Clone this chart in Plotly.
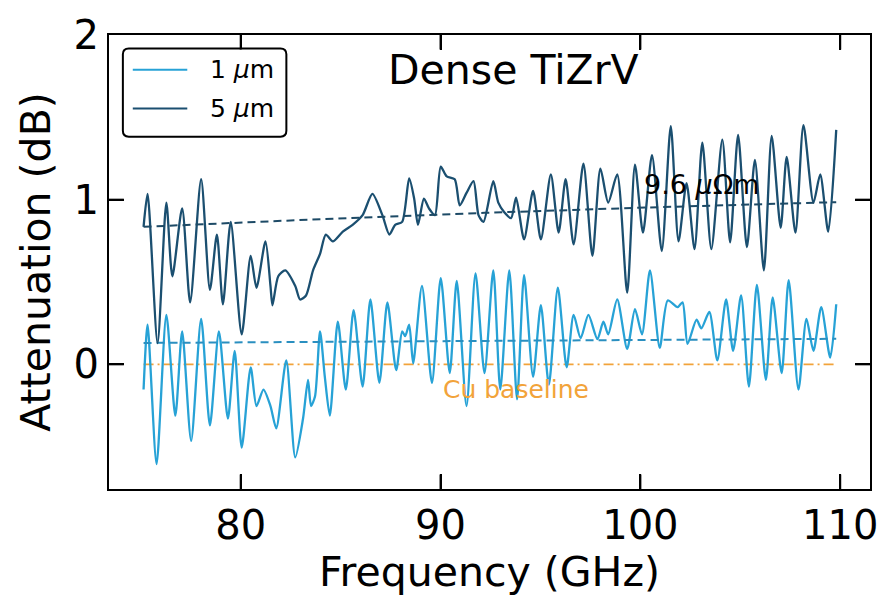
import plotly.graph_objects as go

# ---- data ----
freq_5um = [75.14, 75.34, 75.84, 76.28, 76.58, 77.07, 77.47, 78.02, 78.46, 78.81,
            79.11, 79.50, 80.05, 80.50, 80.79, 81.24, 81.49, 81.59, 81.88, 82.23,
            82.73, 82.97, 83.27, 83.62, 83.97, 84.26, 84.61, 85.11, 85.60, 86.10,
            86.59, 87.09, 87.44, 87.73, 88.08, 88.43, 88.68, 88.87, 89.17, 89.42,
            89.72, 90.01, 90.31, 90.71, 90.96, 91.30, 91.65, 91.90, 92.15, 92.64,
            92.89, 93.19, 93.53, 93.78, 94.18, 94.63, 95.02, 95.52, 95.91, 96.26,
            96.66, 97.15, 97.60, 98.00, 98.39, 98.84, 99.34, 99.73, 100.13, 100.58,
            101.07, 101.52, 101.91, 102.31, 102.71, 103.10, 103.55, 104.10, 104.49, 104.89,
            105.33, 105.73, 106.18, 106.57, 107.02, 107.32, 107.76, 108.16, 108.66, 109.00,
            109.40, 109.80]
att_5um = [0.835, 1.035, 0.129, 0.982, 0.535, 0.947, 0.376, 1.124, 0.453, 0.788,
           0.365, 0.865, 0.182, 0.659, 0.465, 0.747, 0.476, 0.359, 0.535, 0.571,
           0.476, 0.394, 0.418, 0.571, 0.671, 0.788, 0.747, 0.806, 0.847, 0.906,
           1.035, 0.906, 0.788, 0.847, 0.865, 1.129, 1.006, 0.847, 1.006, 0.947,
           0.906, 1.200, 1.141, 1.124, 0.965, 1.041, 1.112, 0.906, 0.865, 1.112,
           0.982, 0.924, 0.888, 1.012, 0.759, 1.053, 0.759, 1.153, 0.800, 1.124,
           0.729, 1.218, 0.659, 1.188, 0.982, 1.153, 0.435, 1.212, 0.800, 1.271,
           0.688, 1.447, 0.747, 1.100, 0.700, 1.347, 0.700, 1.365, 0.741, 1.394,
           0.712, 1.241, 0.571, 1.388, 0.829, 1.259, 0.800, 1.453, 0.982, 1.153,
           0.806, 1.424]

freq_1um = [75.14, 75.34, 75.79, 76.28, 76.73, 77.07, 77.52, 78.02, 78.46, 78.91,
            79.36, 79.70, 80.05, 80.50, 80.79, 81.14, 81.49, 81.78, 82.28, 82.73,
            83.12, 83.37, 83.52, 83.72, 83.97, 84.21, 84.46, 84.86, 85.26, 85.65,
            86.10, 86.49, 86.94, 87.34, 87.78, 88.08, 88.23, 88.43, 88.63, 89.07,
            89.57, 90.01, 90.46, 90.81, 91.30, 91.75, 92.20, 92.64, 92.99, 93.44,
            93.83, 94.18, 94.63, 95.02, 95.42, 95.87, 96.31, 96.66, 97.01, 97.40,
            97.85, 98.15, 98.39, 98.84, 99.34, 99.73, 100.08, 100.48, 100.97, 101.37,
            101.86, 102.11, 102.36, 102.81, 103.05, 103.45, 103.85, 104.29, 104.64, 105.04,
            105.43, 105.83, 106.28, 106.62, 107.07, 107.42, 107.91, 108.31, 108.66, 109.05,
            109.50, 109.80]
att_1um = [-0.153, 0.241, -0.606, 0.300, -0.312, 0.200, -0.465, 0.276, -0.371, 0.200,
           -0.329, 0.082, -0.506, -0.018, -0.253, -0.153, -0.253, -0.388, 0.024, -0.565,
           -0.329, -0.094, -0.253, -0.194, 0.200, -0.076, -0.312, 0.259, -0.153, 0.329,
           -0.135, 0.394, -0.112, 0.376, -0.035, 0.200, 0.171, 0.241, 0.006, 0.476,
           -0.112, 0.524, -0.053, 0.506, -0.253, 0.553, -0.053, 0.571, -0.153, 0.571,
           -0.212, 0.541, -0.076, 0.359, -0.124, 0.465, -0.018, 0.300, 0.159, 0.300,
           0.153, 0.259, 0.182, 0.394, 0.094, 0.335, 0.182, 0.571, 0.100, 0.388,
           0.347, 0.376, 0.124, 0.271, 0.218, 0.318, 0.024, 0.394, 0.082, 0.418,
           -0.135, 0.482, -0.094, 0.406, -0.053, 0.512, -0.153, 0.276, 0.082, 0.347,
           0.041, 0.365]

fit_freq = [75.14, 82.73, 92.20, 101.00, 109.80]
fit_5um = [0.835, 0.875, 0.920, 0.955, 0.985]
fit_1um = [0.130, 0.136, 0.143, 0.149, 0.155]

cu_freq = [75.14, 109.80]
cu_att = [0.0, 0.0]

series_names = ["1 <i>\u03bc</i>m", "5 <i>\u03bc</i>m"]
title_text = "Dense TiZrV"
rho_label = "9.6 <i>\u03bc</i>\u03a9m"
cu_label = "Cu baseline"
xtick_vals = [80, 90, 100, 110]
ytick_vals = [0, 1, 2]
x_range = [73.41, 111.49]
y_range = [-0.757, 2.0]

C_LIGHT = "#27a2d6"
C_DARK = "#1b4f70"
C_CU = "#f2a33a"
FONT = "DejaVu Sans"

fig = go.Figure()

fig.add_trace(go.Scatter(x=cu_freq, y=cu_att, mode="lines",
                         line=dict(color=C_CU, width=1.8, dash="10px,4px,2px,4px"),
                         showlegend=False, hoverinfo="skip"))
fig.add_trace(go.Scatter(x=freq_1um, y=att_1um, mode="lines", name=series_names[0],
                         line=dict(color=C_LIGHT, width=2.3, shape="spline", smoothing=0.7),
                         showlegend=False))
fig.add_trace(go.Scatter(x=fit_freq, y=fit_1um, mode="lines",
                         line=dict(color="#2a8fc0", width=2, dash="8px,5px"),
                         showlegend=False, hoverinfo="skip"))
fig.add_trace(go.Scatter(x=freq_5um, y=att_5um, mode="lines", name=series_names[1],
                         line=dict(color=C_DARK, width=2.3, shape="spline", smoothing=0.7),
                         showlegend=False))
fig.add_trace(go.Scatter(x=fit_freq, y=fit_5um, mode="lines",
                         line=dict(color="#1d4a66", width=2, dash="8px,5px"),
                         showlegend=False, hoverinfo="skip"))

# ---- layout geometry ----
W, H = 890, 597
L, R, T, B = 109, 13, 24, 104
pw, ph = W - L - R, H - T - B
TICK = 15


def px(xp):
    return (xp - L) / pw


def py(yp):
    return (H - B - yp) / ph


# legend box (rounded)
x0, x1, y0, y1 = px(123), px(288), py(129), py(38)
rx, ry = 6 / pw, 6 / ph
path = (f"M {x0+rx},{y0} L {x1-rx},{y0} Q {x1},{y0} {x1},{y0+ry} "
        f"L {x1},{y1-ry} Q {x1},{y1} {x1-rx},{y1} L {x0+rx},{y1} "
        f"Q {x0},{y1} {x0},{y1-ry} L {x0},{y0+ry} Q {x0},{y0} {x0+rx},{y0} Z")
shapes = [dict(type="path", path=path, xref="paper", yref="paper", opacity=1,
               line=dict(color="black", width=2), fillcolor="white", layer="above")]

# inward tick marks on all four sides (drawn as decorations at the tick values)
tk_x, tk_y = TICK / ph, TICK / pw
for v in xtick_vals:
    shapes.append(dict(type="line", xref="x", yref="paper", x0=v, x1=v, y0=0, y1=tk_x,
                       line=dict(color="black", width=2), opacity=1, layer="above"))
    shapes.append(dict(type="line", xref="x", yref="paper", x0=v, x1=v, y0=1 - tk_x, y1=1,
                       line=dict(color="black", width=2), opacity=1, layer="above"))
for v in ytick_vals[:-1]:
    shapes.append(dict(type="line", xref="paper", yref="y", x0=0, x1=tk_y, y0=v, y1=v,
                       line=dict(color="black", width=2), opacity=1, layer="above"))
    shapes.append(dict(type="line", xref="paper", yref="y", x0=1 - tk_y, x1=1, y0=v, y1=v,
                       line=dict(color="black", width=2), opacity=1, layer="above"))

legend_colors = [C_LIGHT, C_DARK]
legend_rows = [60, 100]
annotations = []
for name, col, row in zip(series_names, legend_colors, legend_rows):
    shapes.append(dict(type="line", xref="paper", yref="paper", opacity=1,
                       x0=px(133), x1=px(188), y0=py(row), y1=py(row),
                       line=dict(color=col, width=2), layer="above"))
    annotations.append(dict(text=name, xref="paper", yref="paper", x=px(209), y=py(row),
                            xanchor="left", yanchor="middle", showarrow=False,
                            font=dict(family=FONT, size=25, color="black")))

annotations += [
    dict(text=title_text, xref="paper", yref="paper", x=px(517), y=py(60),
         xanchor="center", yanchor="middle", showarrow=False,
         font=dict(family=FONT, size=41, color="black")),
    dict(text=rho_label, x=100.1, y=1.095, xref="x", yref="y",
         xanchor="left", yanchor="middle", showarrow=False,
         font=dict(family=FONT, size=27, color="black")),
    dict(text=cu_label, x=93.8, y=-0.15, xref="x", yref="y",
         xanchor="center", yanchor="middle", showarrow=False,
         font=dict(family=FONT, size=25, color=C_CU)),
]

axis_common = dict(showline=True, linecolor="black", linewidth=2, mirror="ticks",
                   ticks="inside", ticklen=TICK, tickwidth=2, tickcolor="black",
                   showgrid=False, zeroline=False,
                   tickfont=dict(family=FONT, size=40, color="black"))

fig.update_layout(
    width=W, height=H,
    margin=dict(l=L, r=R, t=T, b=B),
    paper_bgcolor="white", plot_bgcolor="white",
    font=dict(family=FONT, color="black"),
    showlegend=False,
    shapes=shapes,
    annotations=annotations,
    xaxis=dict(range=x_range, tickvals=xtick_vals,
               title=dict(text="Frequency (GHz)", font=dict(family=FONT, size=41), standoff=8),
               **axis_common),
    yaxis=dict(range=y_range, tickvals=ytick_vals,
               title=dict(text="Attenuation (dB)", font=dict(family=FONT, size=41), standoff=10),
               **axis_common),
)

fig.write_html("out.html")
